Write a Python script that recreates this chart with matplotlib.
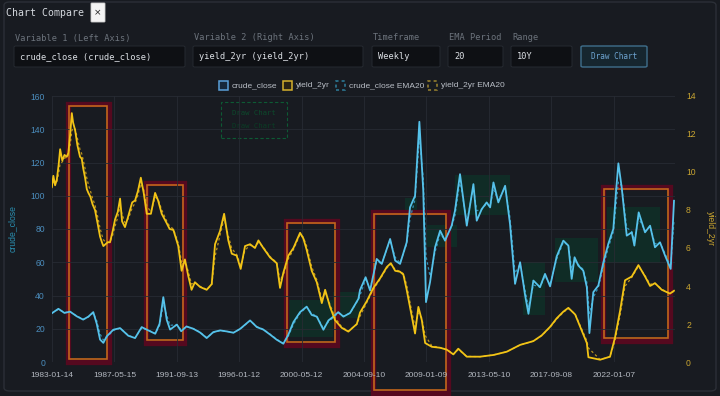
import matplotlib
matplotlib.use('Agg')
import matplotlib.pyplot as plt
from matplotlib.patches import Rectangle, FancyBboxPatch
import numpy as np
import pandas as pd

# crude_close (left axis), decimal year -> value
crude_t = [1983.02, 1983.48, 1983.9, 1984.29, 1984.75, 1985.2, 1985.56, 1985.9, 1986.14, 1986.37,
           1986.6, 1986.83, 1987.29, 1987.76, 1988.33, 1988.8, 1989.26, 1989.72, 1990.2, 1990.5,
           1990.76, 1991.0, 1991.23, 1991.7, 1992.0, 1992.37, 1992.84, 1993.3, 1993.77, 1994.23,
           1994.7, 1995.16, 1995.63, 1996.1, 1996.78, 1997.25, 1997.7, 1998.17, 1998.63, 1999.09,
           1999.44, 1999.79, 2000.25, 2000.71, 2001.06, 2001.41, 2001.87, 2002.22, 2002.56, 2002.9,
           2003.26, 2003.72, 2004.3, 2004.41, 2004.8, 2005.11, 2005.57, 2005.92, 2006.5, 2006.85,
           2007.19, 2007.65, 2007.88, 2008.23, 2008.53, 2008.8, 2008.99, 2009.27, 2009.62, 2009.97,
           2010.31, 2010.77, 2011.0, 2011.35, 2011.82, 2012.28, 2012.51, 2012.86, 2013.2, 2013.44,
           2013.67, 2014.01, 2014.48, 2014.82, 2015.17, 2015.52, 2015.87, 2016.1, 2016.44, 2016.9,
           2017.25, 2017.6, 2018.06, 2018.52, 2018.87, 2019.1, 2019.3, 2019.56, 2019.9, 2020.15,
           2020.33, 2020.6, 2020.95, 2021.3, 2021.64, 2021.99, 2022.2, 2022.34, 2022.57, 2022.92,
           2023.27, 2023.45, 2023.75, 2024.19, 2024.54, 2024.88, 2025.23, 2025.58, 2025.97, 2026.2]
crude_v = [29.3, 32.0, 29.5, 30.3, 27.5, 25.5, 27.3, 30.0, 23.0, 13.5,
           11.5, 15.4, 19.4, 20.4, 15.8, 14.4, 21.0, 19.0, 17.0, 23.0,
           39.0, 25.3, 19.5, 22.5, 18.5, 21.4, 20.0, 17.8, 14.4, 18.0,
           19.0, 18.4, 17.6, 20.0, 25.0, 21.0, 19.5, 16.5, 13.4, 11.0,
           16.5, 24.0, 30.0, 33.3, 28.3, 27.3, 19.4, 25.0, 27.3, 30.0,
           27.3, 29.5, 38.0, 43.3, 51.0, 43.0, 62.0, 59.0, 74.0, 61.0,
           59.0, 72.0, 93.0, 100.0, 144.5, 103.0, 36.0, 48.0, 69.0, 79.0,
           73.0, 82.0, 91.0, 113.0, 82.0, 107.0, 85.0, 92.0, 96.0, 93.0,
           108.0, 96.0, 106.0, 83.0, 47.0, 60.0, 40.0, 29.0, 49.0, 45.0,
           53.0, 45.5, 63.5, 73.0, 70.0, 50.0, 63.0, 58.0, 55.0, 45.0,
           17.4, 42.0, 46.0, 60.0, 71.0, 80.0, 105.0, 119.5, 105.0, 76.0,
           78.0, 70.0, 90.0, 78.0, 82.0, 69.0, 72.0, 64.0, 56.0, 97.0]

# yield_2yr (right axis)
yield_t = [1983.02, 1983.13, 1983.25, 1983.37, 1983.5, 1983.6, 1983.75, 1983.9, 1984.06, 1984.17,
           1984.3, 1984.41, 1984.5, 1984.64, 1984.8, 1984.98, 1985.1, 1985.2, 1985.33, 1985.45,
           1985.56, 1985.7, 1985.85, 1986.02, 1986.2, 1986.37, 1986.5, 1986.6, 1986.75, 1986.9,
           1987.06, 1987.25, 1987.41, 1987.6, 1987.76, 1987.9, 1988.1, 1988.3, 1988.45, 1988.6,
           1988.8, 1989.0, 1989.2, 1989.4, 1989.61, 1989.9, 1990.19, 1990.4, 1990.65, 1991.0,
           1991.2, 1991.46, 1991.8, 1992.03, 1992.26, 1992.5, 1992.72, 1992.95, 1993.31, 1993.77,
           1994.12, 1994.35, 1994.7, 1994.98, 1995.27, 1995.51, 1995.85, 1996.13, 1996.43, 1996.78,
           1997.12, 1997.36, 1997.7, 1998.17, 1998.63, 1998.86, 1999.09, 1999.44, 1999.79, 2000.25,
           2000.48, 2000.71, 2001.06, 2001.41, 2001.76, 2001.99, 2002.33, 2002.68, 2003.14, 2003.6,
           2004.19, 2004.41, 2004.88, 2005.34, 2005.8, 2006.27, 2006.55, 2006.85, 2007.19, 2007.42,
           2007.65, 2008.0, 2008.23, 2008.46, 2008.7, 2008.93, 2009.39, 2009.97, 2010.43, 2010.89,
           2011.23, 2011.82, 2012.74, 2013.67, 2014.59, 2015.52, 2016.44, 2017.02, 2017.6, 2018.06,
           2018.52, 2018.87, 2019.34, 2019.8, 2020.15, 2020.26, 2021.07, 2021.76, 2022.11, 2022.46,
           2022.8, 2023.27, 2023.73, 2024.19, 2024.54, 2024.88, 2025.35, 2025.92, 2026.2]
yield_v = [9.2, 9.8, 9.3, 9.6, 10.4, 11.2, 10.6, 10.9, 10.8, 11.0,
           12.0, 13.1, 12.6, 12.2, 11.4, 10.8, 10.7, 10.2, 9.7, 9.1,
           8.9, 8.7, 8.3, 8.0, 7.3, 6.6, 6.3, 6.1, 6.2, 6.3,
           6.3, 6.9, 7.5, 7.9, 8.6, 7.4, 7.1, 7.6, 8.0, 8.4,
           8.5, 9.0, 9.7, 8.9, 7.8, 7.8, 8.9, 8.5, 7.8, 7.3,
           7.0, 6.95, 6.1, 4.8, 5.4, 4.5, 3.8, 4.2, 3.95, 3.8,
           4.1, 6.2, 6.9, 7.8, 6.4, 5.7, 5.6, 4.9, 6.1, 6.2,
           6.0, 6.4, 6.0, 5.5, 5.2, 3.9, 4.7, 5.6, 6.0, 6.8,
           6.5, 5.9, 4.8, 4.2, 3.1, 3.8, 2.9, 2.2, 1.8, 1.6,
           2.0, 2.6, 3.2, 3.9, 4.4, 5.0, 5.2, 4.8, 4.75, 4.6,
           3.8, 2.4, 1.5, 2.9, 2.2, 1.0, 0.8, 0.75, 0.65, 0.4,
           0.7, 0.28, 0.28, 0.37, 0.54, 0.9, 1.1, 1.4, 1.85, 2.3,
           2.65, 2.85, 2.5, 1.65, 1.0, 0.25, 0.12, 0.28, 1.3, 2.7,
           4.3, 4.5, 5.1, 4.5, 4.0, 4.15, 3.8, 3.6, 3.75]

tick_dates = pd.date_range('1983-01-14', periods=10, freq='1582D')
tick_labels = [d.strftime('%Y-%m-%d') for d in tick_dates]

W, H = 720, 396
BG = '#181b21'
MONO = 'DejaVu Sans Mono'
SANS = 'Liberation Sans'


def fxy(x, y):
    return x / W, 1 - y / H


def ema20(t, v, tau=0.1916):
    # weekly EMA20 ~ decay time of 10 weeks, applied on uneven steps
    out = [v[0]]
    for i in range(1, len(v)):
        a = 1 - np.exp(-(t[i] - t[i - 1]) / tau)
        out.append(out[-1] + a * (v[i] - out[-1]))
    return out


def box(fig, x0, y0, x1, y1, fc, ec, lw=0.8, ls='-', r=2, z=2):
    p = FancyBboxPatch(fxy(x0, y1), (x1 - x0) / W, (y1 - y0) / H,
                       boxstyle=f'round,pad=0,rounding_size={r / W}',
                       transform=fig.transFigure, facecolor=fc, edgecolor=ec,
                       linewidth=lw, linestyle=ls, zorder=z)
    fig.patches.append(p)


def frame(fig, x0, y0, x1, y1, color, lw, z=-1, ls='-'):
    p = Rectangle(fxy(x0, y1), (x1 - x0) / W, (y1 - y0) / H,
                  transform=fig.transFigure, facecolor='none',
                  edgecolor=color, linewidth=lw, linestyle=ls, zorder=z)
    fig.patches.append(p)


fig = plt.figure(figsize=(7.2, 3.96), dpi=100, facecolor=BG)

# panel + header
box(fig, 4, 2, 716, 391, 'none', '#2b2f37', lw=1.0, r=6, z=-3)
fig.text(*fxy(6, 13), 'Chart Compare', family=MONO, fontsize=7.1, color='#d4d8de', va='center')
box(fig, 91, 3, 105, 22, '#f4f4f4', '#cfcfcf', lw=0.6, r=1)
fig.text(*fxy(98, 13), '×', fontsize=6.5, color='#222222', ha='center', va='center', zorder=5)

fields = [(14, 185, 'Variable 1 (Left Axis)', 'crude_close (crude_close)'),
          (193, 363, 'Variable 2 (Right Axis)', 'yield_2yr (yield_2yr)'),
          (372, 440, 'Timeframe', 'Weekly'),
          (448, 503, 'EMA Period', '20'),
          (511, 572, 'Range', '10Y')]
for x0, x1, lab, val in fields:
    fig.text(*fxy(x0 + 1, 38), lab, family=MONO, fontsize=6.25, color='#6c737c', va='center')
    box(fig, x0, 46, x1, 67, '#0e1014', '#262a31', lw=0.7)
    fig.text(*fxy(x0 + 6, 56.5), val, family=MONO, fontsize=6.25, color='#dde1e6',
             va='center', zorder=5)
box(fig, 581, 46, 647, 67, '#16262f', '#3f6f8c', lw=1.0)
fig.text(*fxy(614, 56.5), 'Draw Chart', family=MONO, fontsize=5.5, color='#6fa6d4',
         ha='center', va='center', zorder=5)

# chart
ax = fig.add_axes([52 / W, 1 - 362 / H, (675 - 52) / W, (362 - 96) / H])
ax.set_facecolor('none')
ax2 = ax.twinx()

tick_x = [d.year + (d.dayofyear - 1) / 365.25 for d in tick_dates]
x_left = tick_x[0]
x_right = x_left + (675 - 52) / 14.41

crude_col = '#56c2ea'
yield_col = '#f2c416'
ax.plot(crude_t, ema20(crude_t, crude_v), color='#2f8fb4', lw=0.9, ls=(0, (2, 2)), zorder=2)
ax.plot(crude_t, crude_v, color=crude_col, lw=1.3, zorder=3)
ax2.plot(yield_t, ema20(yield_t, yield_v), color='#b8901c', lw=0.9, ls=(0, (2, 2)), zorder=2)
ax2.plot(yield_t, yield_v, color=yield_col, lw=1.3, zorder=3)

ax.set_xlim(x_left, x_right)
ax.set_ylim(0, 160)
ax2.set_ylim(0, 14)
ax.set_yticks(np.arange(0, 161, 20))
ax2.set_yticks(np.arange(0, 15, 2))
ax.set_xticks(tick_x)
ax.set_xticklabels(tick_labels)

ax.grid(True, color='#272b33', lw=0.6)
for a in (ax, ax2):
    for s in a.spines.values():
        s.set_visible(False)
ax.tick_params(axis='y', length=0, pad=5, labelsize=6.2, labelcolor='#4b8dbd')
ax.tick_params(axis='x', length=0, pad=7, labelsize=6.0, labelcolor='#b3b8c0')
ax2.tick_params(axis='y', length=0, pad=8, labelsize=6.2, labelcolor='#c9a531')
for lab in ax.get_xticklabels() + ax.get_yticklabels() + ax2.get_yticklabels():
    lab.set_family(SANS)
ax.set_ylabel('crude_close', family=SANS, fontsize=6.2, color='#2a90b2', labelpad=10)
ax2.set_ylabel('yield_2yr', family=SANS, fontsize=6.2, color='#c9a531', rotation=270, labelpad=14)

# legend drawn by hand
legend_items = [(219, 'crude_close', '#5aa0d8', '#17283a', '-'),
                (283, 'yield_2yr', '#d6b12c', '#2a2414', '-'),
                (336, 'crude_close EMA20', '#2f7f9c', 'none', (0, (2, 2))),
                (428, 'yield_2yr EMA20', '#9d8530', 'none', (0, (2, 2)))]
for x0, name, ec, fc, ls in legend_items:
    p = Rectangle(fxy(x0, 90), 9 / W, 9 / H, transform=fig.transFigure,
                  facecolor=fc, edgecolor=ec, linewidth=1.1, linestyle=ls, zorder=5)
    fig.patches.append(p)
    fig.text(*fxy(x0 + 13, 85.5), name, family=SANS, fontsize=6.0, color='#b9bec6',
             va='center', zorder=5)

# highlight frames over the chart (maroon band + orange line)
frames = [(69, 107, 106, 359), (147, 183, 185, 340), (287, 335, 223, 342),
          (374, 446, 214, 390), (604, 668, 189, 338)]
for x0, x1, y0, y1 in frames:
    frame(fig, x0 - 1.5, y0 - 2.5, x1 + 1.5, y1 + 3, '#55091f', 3.8, z=-2)
    frame(fig, x0, y0, x1, y1, '#c2661c', 1.2, z=-1)

# faint green patches behind the crude line
patches_green = [(287, 333, 300, 337), (333, 360, 292, 318), (405, 417, 198, 215),
                 (427, 457, 225, 247), (455, 510, 175, 215), (523, 545, 262, 315),
                 (555, 598, 238, 282), (607, 660, 207, 263)]
for x0, x1, y0, y1 in patches_green:
    p = Rectangle(fxy(x0, y1), (x1 - x0) / W, (y1 - y0) / H, transform=fig.transFigure,
                  facecolor='#0b3b2b', edgecolor='none', alpha=0.55, zorder=-2.5)
    fig.patches.append(p)

# ghost button outline near the legend
frame(fig, 221, 102, 287, 138, '#0d5a34', 0.8, z=-1, ls=(0, (3, 2)))
fig.text(*fxy(254, 113), 'Draw Chart', family=MONO, fontsize=5.2, color='#0c4a2c',
         ha='center', va='center', zorder=-1)
fig.text(*fxy(254, 126), 'Draw Chart', family=MONO, fontsize=5.2, color='#0a3d25',
         ha='center', va='center', zorder=-1)

fig.savefig('out.png', dpi=100, facecolor=BG)
